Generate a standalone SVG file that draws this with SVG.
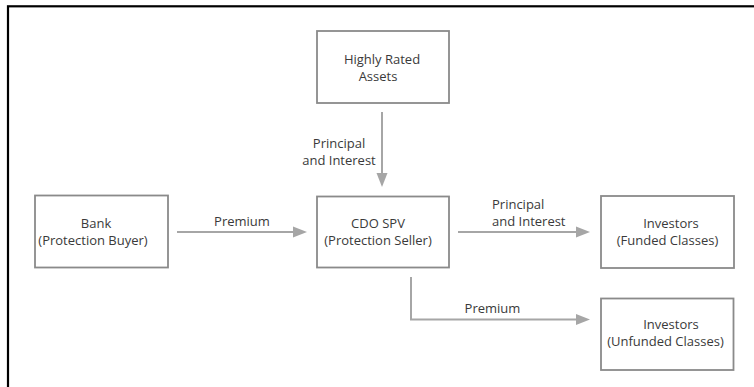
<svg xmlns="http://www.w3.org/2000/svg" width="754" height="387" viewBox="0 0 754 387">
<style>
.box{fill:#fff;stroke:#8a8a8a;stroke-width:1.8}
.t{font-family:"Open Sans","Noto Sans",sans-serif;font-size:13px;fill:#3a3a3a;text-anchor:middle}
.ts{text-anchor:start}
.ln{fill:none;stroke:#a6a6a6;stroke-width:2}
.hd{fill:#a6a6a6}
</style>
<rect width="754" height="387" fill="#fff"/>
<rect x="8" y="6.3" width="800" height="500" fill="none" stroke="#000" stroke-width="2.2"/>
<g id="connectors">
<line class="ln" x1="382" y1="112" x2="382" y2="174"/>
<polygon class="hd" points="376.5,173 387.5,173 382,187"/>
<line class="ln" x1="177" y1="232" x2="294" y2="232"/>
<polygon class="hd" points="293,226.5 293,237.5 307,232"/>
<line class="ln" x1="458" y1="232" x2="577" y2="232"/>
<polygon class="hd" points="576,226.5 576,237.5 590,232"/>
<path class="ln" d="M411,277 V319.5 H577"/>
<polygon class="hd" points="576,314 576,325 590,319.5"/>
<text class="t" x="339" y="148">Principal</text>
<text class="t" x="339" y="165">and Interest</text>
<text class="t" x="242" y="226">Premium</text>
<text class="t ts" x="492" y="209">Principal</text>
<text class="t ts" x="492" y="226">and Interest</text>
<text class="t" x="492.5" y="313">Premium</text>
</g>
<g id="assets">
<rect class="box" x="317" y="31" width="132" height="72"/>
<text class="t" x="382" y="64">Highly Rated</text>
<text class="t" x="378" y="81">Assets</text>
</g>
<g id="bank">
<rect class="box" x="35" y="195.5" width="133" height="72"/>
<text class="t" x="96" y="228">Bank</text>
<text class="t" x="93" y="245">(Protection Buyer)</text>
</g>
<g id="cdo">
<rect class="box" x="317" y="196.5" width="132" height="71"/>
<text class="t" x="378" y="228">CDO SPV</text>
<text class="t" x="378" y="245">(Protection Seller)</text>
</g>
<g id="funded">
<rect class="box" x="601" y="196" width="133" height="72"/>
<text class="t" x="671" y="228">Investors</text>
<text class="t" x="667.5" y="245">(Funded Classes)</text>
</g>
<g id="unfunded">
<rect class="box" x="601" y="298.5" width="132.5" height="71.5"/>
<text class="t" x="671" y="329">Investors</text>
<text class="t" x="665.5" y="346">(Unfunded Classes)</text>
</g>
</svg>
